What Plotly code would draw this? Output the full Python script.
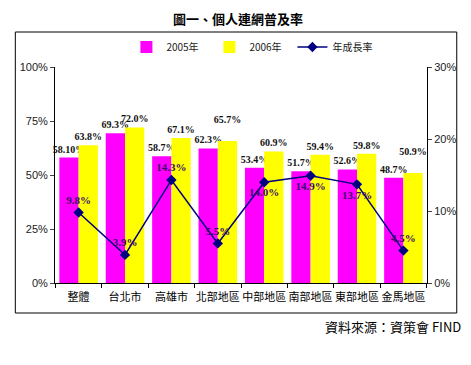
import plotly.graph_objects as go

categories = ["整體", "台北市", "高雄市", "北部地區", "中部地區", "南部地區", "東部地區", "金馬地區"]
rate_2005 = [58.1, 69.3, 58.7, 62.3, 53.4, 51.7, 52.6, 48.7]
rate_2006 = [63.8, 72.0, 67.1, 65.7, 60.9, 59.4, 59.8, 50.9]
growth = [9.8, 3.9, 14.3, 5.5, 14.0, 14.9, 13.7, 4.5]
labels_2005 = ["58.10%", "69.3%", "58.7%", "62.3%", "53.4%", "51.7%", "52.6%", "48.7%"]
labels_2006 = ["63.8%", "72.0%", "67.1%", "65.7%", "60.9%", "59.4%", "59.8%", "50.9%"]
labels_growth = ["9.8%", "3.9%", "14.3%", "5.5%", "14.0%", "14.9%", "13.7%", "4.5%"]

# label placement (style, not data)
growth_pos = ["top center", "top center", "top center", "top center",
              "bottom center", "bottom center", "bottom center", "top center"]
lift_2006 = [False, False, False, True, False, False, False, True]

# page has an 8px body margin; figure is sized so it fits the 471x365 window
W, H = 463, 357
ml, mr, mt, mb = 44, 44, 59, 82
pw, ph = W - ml - mr, H - mt - mb
X0, Y0 = 52, 283  # reference pixel position of plot left / bottom

def px(x):
    return (x - X0) / pw

def py(y):
    return (Y0 - y) / ph

label_font = dict(family="Liberation Serif", size=10, color="#111111")
spacer = "<br><span style='color:rgba(0,0,0,0)'>.</span>"
text_2005 = [f"<b>{t}</b>" for t in labels_2005]
text_2006 = [f"<b>{t}</b>" + (spacer if up else "") for t, up in zip(labels_2006, lift_2006)]

fig = go.Figure()
fig.add_trace(go.Bar(
    x=categories, y=[v / 100 for v in rate_2005], name="2005年",
    marker=dict(color="#FF00FF", line=dict(width=0)),
    text=text_2005, textposition="outside",
    textangle=0, constraintext="none", textfont=label_font,
    cliponaxis=False,
))
fig.add_trace(go.Bar(
    x=categories, y=[v / 100 for v in rate_2006], name="2006年",
    marker=dict(color="#FFFF00", line=dict(width=0)),
    text=text_2006, textposition="outside",
    textangle=0, constraintext="none", textfont=label_font,
    cliponaxis=False,
))
fig.add_trace(go.Scatter(
    x=categories, y=[v / 100 for v in growth], name="年成長率", yaxis="y2",
    mode="lines+markers+text",
    line=dict(color="#000080", width=1.5),
    marker=dict(symbol="diamond", size=8, color="#000080"),
    text=labels_growth, texttemplate="<b>%{text}</b>", textposition=growth_pos,
    textfont=dict(family="Liberation Serif", size=11, color="#3B0A6E"),
    cliponaxis=False,
))

fig.update_layout(
    width=W, height=H,
    margin=dict(l=ml, r=mr, t=mt, b=mb),
    paper_bgcolor="white", plot_bgcolor="white",
    barmode="group", bargap=0.17, bargroupgap=0,
    showlegend=True,
    legend=dict(orientation="h", x=px(124), y=py(47), xanchor="left", yanchor="middle",
                font=dict(family="Noto Sans CJK TC", size=10, color="#222222"),
                bgcolor="rgba(0,0,0,0)", entrywidth=38, itemwidth=30),
    xaxis=dict(
        type="category", showline=True, linecolor="black", linewidth=1,
        ticks="outside", tickson="boundaries", ticklen=4, tickcolor="black",
        tickangle=0, ticklabelstandoff=4,
        tickfont=dict(family="Noto Sans CJK TC", size=11, color="black"),
        showgrid=False, zeroline=False,
    ),
    yaxis=dict(
        range=[0, 1], tickvals=[0, 0.25, 0.5, 0.75, 1], tickformat=".0%",
        showline=True, linecolor="black", linewidth=1, ticks="outside", ticklen=4,
        tickfont=dict(family="Liberation Sans", size=11, color="#222222"),
        showgrid=False, zeroline=False,
    ),
    yaxis2=dict(
        range=[0, 0.3], tickvals=[0, 0.1, 0.2, 0.3], tickformat=".0%",
        overlaying="y", side="right",
        showline=True, linecolor="black", linewidth=1, ticks="outside", ticklen=4,
        tickfont=dict(family="Liberation Sans", size=11, color="#222222"),
        showgrid=False, zeroline=False,
    ),
    shapes=[dict(type="rect", xref="paper", yref="paper",
                 x0=px(12), x1=px(457), y0=py(313), y1=py(32),
                 line=dict(color="black", width=1), layer="below")],
    annotations=[
        dict(text="<b>圖一、個人連網普及率</b>", xref="paper", yref="paper",
             x=px(236), y=py(19), xanchor="center", yanchor="middle", showarrow=False,
             font=dict(family="Noto Sans CJK TC", size=13, color="black")),
        dict(text="資料來源：資策會 FIND", xref="paper", yref="paper",
             x=px(463), y=py(326), xanchor="right", yanchor="middle", showarrow=False,
             font=dict(family="Noto Sans CJK TC", size=13, color="black")),
    ],
)

fig.write_html("out.html")
